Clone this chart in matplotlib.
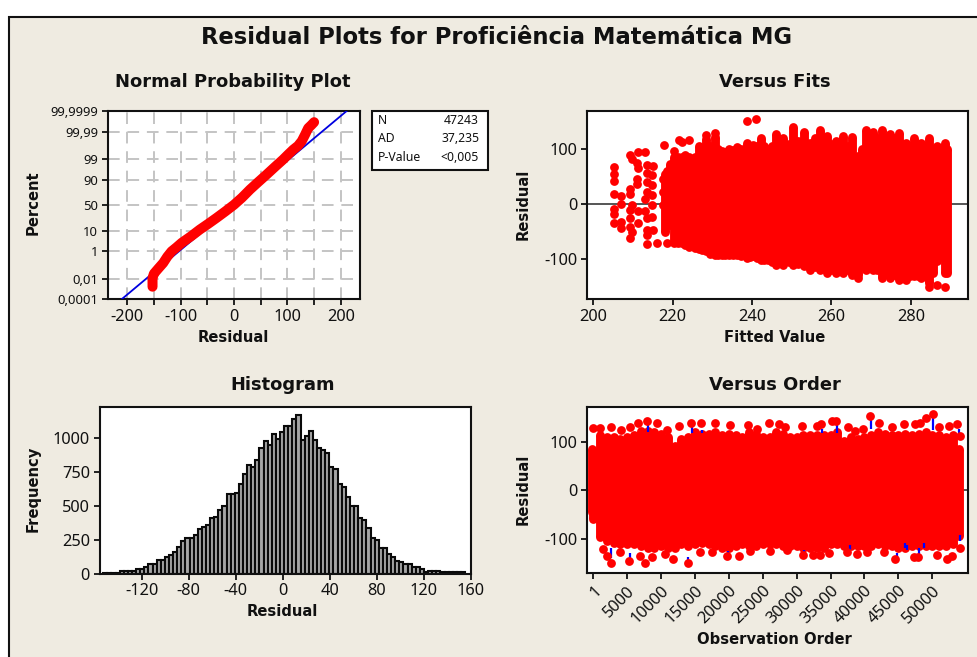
from statistics import NormalDist
import matplotlib
matplotlib.use("Agg")
import matplotlib.pyplot as plt
from matplotlib.patches import Rectangle

W, H = 977, 657
BG = "#EFEBE1"
plt.rcParams["font.family"] = ["Noto Sans", "DejaVu Sans"]
plt.rcParams["axes.unicode_minus"] = False
BOLD = dict(fontweight="bold", family="DejaVu Sans", color="#111111")

# ---- Normal probability plot
prob_residual = [-152.6, -152.6, -150, -142, -132.6, -125, -117, -108, -98, -80, -64, -48, -33, -16, 0, 15, 30, 45,
                 61, 77, 92, 101, 111, 120, 127, 133, 139, 145, 150]
prob_percent = [0.002, 0.012, 0.028, 0.069, 0.18, 0.47, 1, 1.66, 2.9, 6, 11, 17.6, 26, 38, 51, 65, 78.6, 87.7,
                93.9, 97.4, 98.95, 99.46, 99.75, 99.865, 99.94, 99.981, 99.995, 99.9974, 99.9986]
fit_line_res = [-211, 211]
fit_line_pct = [0.0001, 99.9999]
prob_ticks = [0.0001, 0.01, 1, 10, 50, 90, 99, 99.99, 99.9999]
prob_labels = ["0,0001", "0,01", "1", "10", "50", "90", "99", "99,99", "99,9999"]
prob_xticks = [-200, -150, -100, -50, 0, 50, 100, 150, 200]
prob_xshown = {-200: "-200", -100: "-100", 0: "0", 100: "100", 200: "200"}
stats_names = ["N", "AD", "P-Value"]
stats_values = ["47243", "37,235", "<0,005"]

# ---- Histogram
hist_start = -151
hist_width = 3.5
hist_counts = [8, 8, 8, 8, 20, 20, 20, 20, 32, 32, 49, 74, 74, 98, 98, 123, 135, 160, 197, 238, 263, 265, 283, 332,
               344, 356, 413, 420, 467, 496, 585, 585, 597, 658, 737, 799, 786, 835, 926, 975, 951, 1027, 995, 1044,
               1088, 1088, 1137, 1167, 988, 1012, 1051, 988, 926, 914, 889, 786, 774, 663, 639, 565, 496, 496, 410,
               393, 339, 263, 251, 189, 189, 147, 123, 96, 88, 69, 74, 52, 47, 32, 10, 22, 22, 22, 10, 10, 10, 10, 10, 10]
hist_xticks = [-120, -80, -40, 0, 40, 80, 120, 160]
hist_yticks = [0, 250, 500, 750, 1000]

# ---- Versus fits: dense columns of points (fit value, upper, lower) and isolated points
fits_col_x = [218, 219.3, 220.3, 221.4, 222.3, 223.2, 224.2, 225.6, 226.6, 227.5, 228.4, 229.5, 230.6, 231.4, 232.3, 233.2,
              234.2, 235.1, 236.1, 237.3, 238.6, 239.5, 240.3, 241.2, 242.2, 243.1, 244.1, 245, 246, 247.9, 249.2,
              250.4, 251.7, 253, 254.6, 255.9, 257.1, 258.8, 259.9, 261.1, 263, 264.2, 265.3, 266.8, 267.7, 268.7,
              269.6, 270.6, 271.6, 272.7, 273.7, 274.8, 275.9, 277, 277.8, 278.7, 279.8, 280.9, 281.8, 282.6, 283.6,
              284.6, 285.6, 286.5, 288.6, 289.1]
fits_col_hi = [55, 73, 85, 85, 85, 90, 85, 85, 106, 100, 118, 105, 123, 100, 97, 95,
               100, 98, 104, 100, 111, 105, 108, 105, 121, 105, 100, 105, 128, 121, 110,
               140, 115, 131, 112, 120, 134, 124, 110, 115, 124, 105, 123, 88, 100, 134,
               120, 131, 120, 134, 120, 128, 120, 129, 110, 112, 105, 120, 105, 112, 105,
               121, 100, 106, 112, 100]
fits_col_lo = [-50, -37, -71, -71, -71, -74, -77, -80, -81, -84, -86, -90, -92, -92, -92, -92,
               -92, -92, -92, -95, -98, -96, -95, -98, -101, -101, -101, -105, -110, -110, -105,
               -110, -108, -113, -119, -115, -119, -125, -120, -125, -125, -120, -128, -128, -110, -119,
               -115, -119, -120, -134, -125, -134, -128, -137, -130, -137, -130, -131, -130, -134, -130,
               -143, -125, -104, -125, -125]
fits_pt_x = [205.3, 205.3, 205.3, 205.3, 205.3, 205.3, 205.3, 207, 207, 207, 207, 209.2, 209.8, 209.2, 209.2, 209.7,
             209.2, 209.2, 209.2, 209.7, 209.2, 210.9, 211.3, 210.9, 210.9, 211.3, 213, 211.3, 211.3, 213.4, 215.1,
             213.4, 213.4, 213.4, 213, 213, 213.4, 213.4, 213.4, 215.1, 213.4, 216, 218.6, 217.8, 214.9, 214.9,
             214.9, 214.9, 214.9, 217.5, 217.5, 217.5, 218.6, 220.3, 221.6, 222.4, 224.1, 228.4, 230.6,
             238.7, 241, 286.5, 288.6, 284.6, 266.8]
fits_pt_y = [66.7, 54, 41.8, 17.6, -7.9, -18, -35, 15, 0, -32, -44, 89, 83, 27, 17.6, -1,
             -11, -26, -41, -50, -61, 74, 66, 45.5, 37.6, 95, 95, -13, -35, 72, 70,
             56, 40.6, 22.4, 10, -13, -26, -47, -56, -47, -73, -70, -71.5, 107, 52.7, 34.6,
             16.4, -2, -23, 45.5, 22, -2, 60, 96, 116, 113, 116, 125, 130,
             151, 154, -147, -150, -150, -135]
fits_xticks = [200, 220, 240, 260, 280]
resid_yticks = [-100, 0, 100]

# ---- Versus order: dense band per 1000 observations and points standing out of it
order_col_x = [-200] + [1000 * k for k in range(55)]
order_col_hi = [85, 80, 113, 109, 109, 106, 109, 113, 123, 123, 119, 116, 109, 92, 106, 109, 119, 116, 116, 119, 113,
                116, 113, 109, 119, 116, 109, 109, 119, 116, 109, 109, 113, 113, 113, 113, 113, 119, 102, 109, 106,
                109, 113, 119, 116, 113, 113, 116, 113, 116, 119, 113, 113, 109, 113, 85]
order_col_lo = [-45, -60, -97, -104, -108, -111, -111, -111, -114, -118, -118, -114, -118, -118, -111, -114, -111, -108,
                -111, -114, -118, -118, -114, -111, -114, -114, -111, -111, -111, -114, -114, -114, -118, -118, -118,
                -118, -111, -111, -114, -114, -114, -114, -114, -111, -114, -114, -118, -118, -114, -114, -114, -114,
                -114, -114, -111, -95]
order_top_x = [0, 984, 2608, 4034, 5412, 6642, 7872, 9446, 10824, 12694, 14366, 15892, 17958, 20172, 22878, 24108, 25978,
               27454, 28290, 30750, 32964, 33554, 35178, 35818, 37638, 38622, 39852, 40836, 42066, 44034, 45854, 47478,
               48216, 49102, 50086, 50922, 52398, 53628, 54120]
order_top_y = [129, 129, 131, 124, 131, 139, 142.5, 139, 124, 132, 139, 138, 139, 134, 134, 127, 138,
               136, 131, 132, 132, 136, 142.5, 142.5, 131, 122, 127, 153, 139, 131, 136, 136,
               138, 149, 156, 131, 132, 136, 112]
order_bot_x = [1476, 2066, 2608, 3936, 5314, 6888, 7577, 8708, 10578, 11808, 13924, 15744, 17466, 19680, 21500, 23124,
               26076, 28536, 30996, 32472, 33456, 34834, 37392, 38868, 40344, 42804, 44526, 47232, 47822, 50676,
               52152, 52890, 54022]
order_bot_y = [-120.5, -135, -148.6, -126, -144.5, -136, -148.6, -138, -131, -141, -148.6, -126, -126, -136, -135, -124,
               -124, -123, -134, -134, -134, -128, -126, -131, -126, -126, -141, -138, -138, -134,
               -142, -135, -118]
order_blue_x = [2608, 50086, 40984, 8020, 14514, 33702, 35916, 53874, 14022, 37884, 44772, 46002, 46248, 47970, 48806,
                31094, 19926, 5412, 54120, 15990]
order_blue_a = [-119, 148, 144, 138, 130, 127, 134, 127, -137, -112, -129, -109, -112, -119, -109, -122, -125, -129, -92, 124]
order_blue_b = [-140, 124, 127, 121, 118, 118, 118, 118, -150, -122, -140, -119, -122, -133, -119, -131, -132, -140, -105, 118]
order_xticks = [1, 5000, 10000, 15000, 20000, 25000, 30000, 35000, 40000, 45000, 50000]


def to_z(p):
    return NormalDist().inv_cdf(p / 100.0)


def px_axes(fig, left, top, right, bottom):
    return fig.add_axes([left / W, 1 - bottom / H, (right - left) / W, (bottom - top) / H])


def style(ax):
    ax.set_facecolor("white")
    for s in ax.spines.values():
        s.set_linewidth(1.5)
        s.set_color("#111111")
    ax.tick_params(length=4, width=1.3, labelsize=TICK, colors="#111111", pad=3)


def sub_title(cx, cy, text):
    fig.text(cx / W, 1 - cy / H, text, ha="center", va="center", fontsize=SUB, **BOLD)


def lab(cx, cy, text, rotation=0):
    fig.text(cx / W, 1 - cy / H, text, ha="center", va="center", fontsize=LAB, rotation=rotation, **BOLD)


def columns(ax, xs, lows, highs):
    ax.vlines(xs, lows, highs, color=RED, linewidth=COLW, zorder=3)
    ax.scatter(xs, highs, s=MARK, color=RED, linewidths=0, zorder=3)
    ax.scatter(xs, lows, s=MARK, color=RED, linewidths=0, zorder=3)


TICK = 11.8
LAB = 10.6
SUB = 12.9
RED = "#FF0000"
MARK = 40
COLW = 6.4

fig = plt.figure(figsize=(W / 100, H / 100), dpi=100, facecolor="white")
fig.add_artist(Rectangle((9 / W, -0.01), 1.01 - 9 / W, 1.01 - 17 / H, transform=fig.transFigure,
                         facecolor=BG, edgecolor="#111111", linewidth=1.5, zorder=-5))
fig.text(497 / W, 1 - 38 / H, "Residual Plots for Proficiência Matemática MG", ha="center", va="center",
         fontsize=16.3, **BOLD)

# Normal probability
ax = px_axes(fig, 108, 111, 360, 299.5)
style(ax)
ax.set_xlim(-236, 236)
ax.set_ylim(to_z(0.0001), to_z(99.9999))
ax.set_xticks(prob_xticks)
ax.set_xticklabels([prob_xshown.get(v, "") for v in prob_xticks])
ax.set_yticks([to_z(p) for p in prob_ticks])
ax.set_yticklabels(prob_labels, fontsize=9.4)
ax.grid(True, color="#C4C4C4", linewidth=1.4, linestyle=(0, (6, 4)))
ax.set_axisbelow(True)
ax.plot(fit_line_res, [to_z(p) for p in fit_line_pct], color="#0000E0", linewidth=1.3, zorder=3)
ax.plot(prob_residual, [to_z(p) for p in prob_percent], color=RED, linewidth=7.2, solid_capstyle="round",
        solid_joinstyle="round", zorder=4)
sub_title(233, 82, "Normal Probability Plot")
lab(233, 337, "Residual")
lab(33, 203, "Percent", 90)

# Statistics box
fig.add_artist(Rectangle((372 / W, 1 - 170 / H), 116 / W, 59.5 / H, transform=fig.transFigure,
                         facecolor="white", edgecolor="#111111", linewidth=1.5))
for i, (name, value) in enumerate(zip(stats_names, stats_values)):
    y = 1 - (120.5 + 18.3 * i) / H
    fig.text(378 / W, y, name, ha="left", va="center", fontsize=8.8, color="#111111")
    fig.text(479 / W, y, value, ha="right", va="center", fontsize=8.8, color="#111111")

# Versus fits
ax = px_axes(fig, 587, 110.7, 968.3, 299.3)
style(ax)
ax.set_xlim(198.4, 294.5)
ax.set_ylim(-173, 170)
ax.set_xticks(fits_xticks)
ax.set_yticks(resid_yticks)
ax.axhline(0, color="#555555", linewidth=1.4, zorder=1)
columns(ax, fits_col_x, fits_col_lo, fits_col_hi)
ax.scatter(fits_pt_x, fits_pt_y, s=MARK, color=RED, linewidths=0, zorder=3)
sub_title(775, 82, "Versus Fits")
lab(775, 337, "Fitted Value")
lab(523, 204, "Residual", 90)

# Histogram
ax = px_axes(fig, 99.7, 407.3, 470.7, 573.7)
style(ax)
ax.set_xlim(-155.7, 160)
ax.set_ylim(0, 1226)
ax.bar([hist_start + hist_width * i for i in range(len(hist_counts))], hist_counts, width=hist_width,
       facecolor="#A6A6A6", edgecolor="#0A0A0A", linewidth=1.5)
ax.set_xticks(hist_xticks)
ax.set_yticks(hist_yticks)
sub_title(283, 385, "Histogram")
lab(282, 611, "Residual")
lab(33, 489, "Frequency", 90)

# Versus order
ax = px_axes(fig, 587, 407.3, 968.3, 573.3)
style(ax)
ax.set_xlim(-929, 55310)
ax.set_ylim(-170.8, 170.8)
ax.axhline(0, color="#333333", linewidth=1.2, zorder=1)
columns(ax, order_col_x, order_col_lo, order_col_hi)
ax.vlines(order_blue_x, order_blue_b, order_blue_a, color="#0000FF", linewidth=1.6, zorder=4)
ax.scatter(order_top_x, order_top_y, s=MARK, color=RED, linewidths=0, zorder=5)
ax.scatter(order_bot_x, order_bot_y, s=MARK, color=RED, linewidths=0, zorder=5)
ax.set_xticks(order_xticks)
ax.set_xticklabels([str(v) for v in order_xticks], rotation=45, ha="right", rotation_mode="anchor")
ax.set_yticks(resid_yticks)
sub_title(775, 385, "Versus Order")
lab(774, 640, "Observation Order")
lab(523, 489, "Residual", 90)

fig.savefig("out.png", dpi=100, facecolor=fig.get_facecolor())
